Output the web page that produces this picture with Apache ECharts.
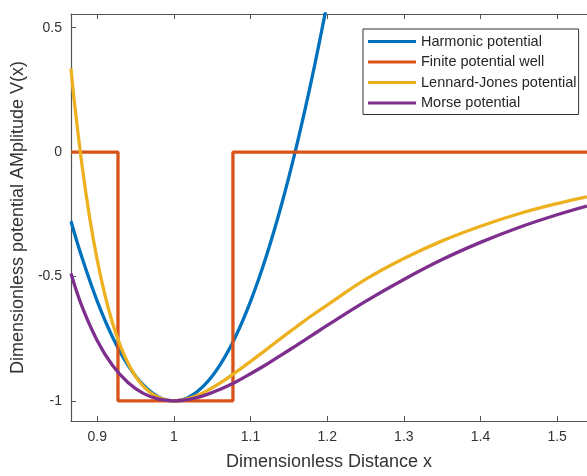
<!DOCTYPE html>
<html>
<head>
<meta charset="utf-8">
<script src="https://cdn.jsdelivr.net/npm/echarts@6/dist/echarts.min.js"></script>
<style>
html,body{margin:0;padding:0;background:#fff;}
#chart{width:587px;height:476px;}
</style>
</head>
<body>
<div id="chart"></div>
<script>
// ---- data ----
const xTicks = [0.9, 1.0, 1.1, 1.2, 1.3, 1.4, 1.5];
const yTicks = [-1, -0.5, 0, 0.5];
const seriesNames = ['Harmonic potential', 'Finite potential well', 'Lennard-Jones potential', 'Morse potential'];

const xHarm = [0.8657,0.88,0.90,0.92,0.94,0.96,0.98,1.00,1.02,1.04,1.06,1.08,1.10,1.12,1.14,1.16,1.18,1.20];
const vHarm = [-0.278,-0.424,-0.600,-0.744,-0.856,-0.936,-0.984,-1.000,-0.984,-0.936,-0.856,-0.744,-0.600,-0.424,-0.216,0.024,0.296,0.600];

const xWell = [0.8657,0.927,0.927,1.077,1.077,1.539];
const vWell = [0,0,-1,-1,0,0];

const xLJ = [0.8657,0.87,0.88,0.89,0.90,0.91,0.92,0.93,0.94,0.95,0.96,0.97,0.98,0.99,1.00,1.02,1.04,1.06,1.08,1.10,1.12,1.14,1.16,1.18,1.20,1.25,1.30,1.35,1.40,1.45,1.50,1.539];
const vLJ = [0.336,0.205,-0.051,-0.263,-0.435,-0.575,-0.688,-0.778,-0.848,-0.902,-0.941,-0.969,-0.987,-0.997,-1.000,-0.990,-0.965,-0.929,-0.887,-0.842,-0.795,-0.748,-0.702,-0.657,-0.615,-0.512,-0.428,-0.357,-0.298,-0.248,-0.207,-0.180];

const xMorse = [0.8657,0.88,0.90,0.92,0.94,0.96,0.98,1.00,1.02,1.04,1.06,1.08,1.10,1.12,1.14,1.16,1.18,1.20,1.25,1.30,1.35,1.40,1.45,1.50,1.539];
const vMorse = [-0.488,-0.620,-0.758,-0.858,-0.926,-0.970,-0.993,-1.000,-0.994,-0.978,-0.954,-0.925,-0.891,-0.855,-0.816,-0.777,-0.737,-0.697,-0.600,-0.512,-0.432,-0.363,-0.303,-0.252,-0.217];

const colors = ['#0072BD', '#D95319', '#EDB120', '#7E2F8E'];

// ---- chart ----
const pair = (xs, ys) => xs.map((x, i) => [x, ys[i]]);
const font = 'Liberation Sans, Arial, Helvetica, sans-serif';
const axisColor = '#555555';
const textColor = '#333333';

const chart = echarts.init(document.getElementById('chart'), null, {renderer: 'canvas'});
const xRange = {min: 0.8657, max: 1.539};
const yRange = {min: -1.081, max: 0.555};

const lineSeries = (name, xs, ys, color, smooth) => ({
  name, type: 'line', data: pair(xs, ys), symbol: 'none', smooth: smooth,
  lineStyle: {color, width: 3.3}, itemStyle: {color}, clip: true, animation: false
});

chart.setOption({
  animation: false,
  backgroundColor: '#ffffff',
  grid: {left: 71, top: 14, right: 0, bottom: 48},
  legend: {
    orient: 'vertical', left: 363, top: 29,
    padding: [5, 2, 4, 5], itemGap: 5.5, itemWidth: 48, itemHeight: 3, icon: 'rect',
    borderColor: '#333', borderWidth: 1, backgroundColor: '#fff',
    textStyle: {fontSize: 14.5, lineHeight: 14.5, color: '#262626', fontFamily: font},
    data: seriesNames
  },
  xAxis: [{
    type: 'value', ...xRange, position: 'bottom',
    name: 'Dimensionless Distance x', nameLocation: 'middle', nameGap: 32,
    nameTextStyle: {fontSize: 18, color: textColor, fontFamily: font},
    axisLine: {show: true, onZero: false, lineStyle: {color: axisColor, width: 1.2}},
    axisTick: {show: true, inside: true, length: 5, customValues: xTicks, lineStyle: {color: axisColor}},
    axisLabel: {show: true, margin: 9, customValues: xTicks, fontSize: 14, color: textColor, fontFamily: font},
    splitLine: {show: false}
  }, {
    type: 'value', ...xRange, position: 'top',
    axisLine: {show: true, onZero: false, lineStyle: {color: axisColor, width: 1.2}},
    axisTick: {show: true, inside: true, length: 5, customValues: xTicks, lineStyle: {color: axisColor}},
    axisLabel: {show: false},
    splitLine: {show: false}
  }],
  yAxis: [{
    type: 'value', ...yRange, position: 'left',
    name: 'Dimensionless potential AMplitude V(x)', nameLocation: 'middle', nameGap: 40, nameRotate: 90,
    nameTextStyle: {fontSize: 18, color: textColor, fontFamily: font},
    axisLine: {show: true, onZero: false, lineStyle: {color: axisColor, width: 1.2}},
    axisTick: {show: true, inside: true, length: 5, customValues: yTicks, lineStyle: {color: axisColor}},
    axisLabel: {show: true, margin: 9, customValues: yTicks, fontSize: 14, color: textColor, fontFamily: font},
    splitLine: {show: false}
  }],
  series: [
    lineSeries(seriesNames[0], xHarm, vHarm, colors[0], 0.4),
    lineSeries(seriesNames[1], xWell, vWell, colors[1], false),
    lineSeries(seriesNames[2], xLJ, vLJ, colors[2], 0.4),
    lineSeries(seriesNames[3], xMorse, vMorse, colors[3], 0.4)
  ]
});
</script>
</body>
</html>
